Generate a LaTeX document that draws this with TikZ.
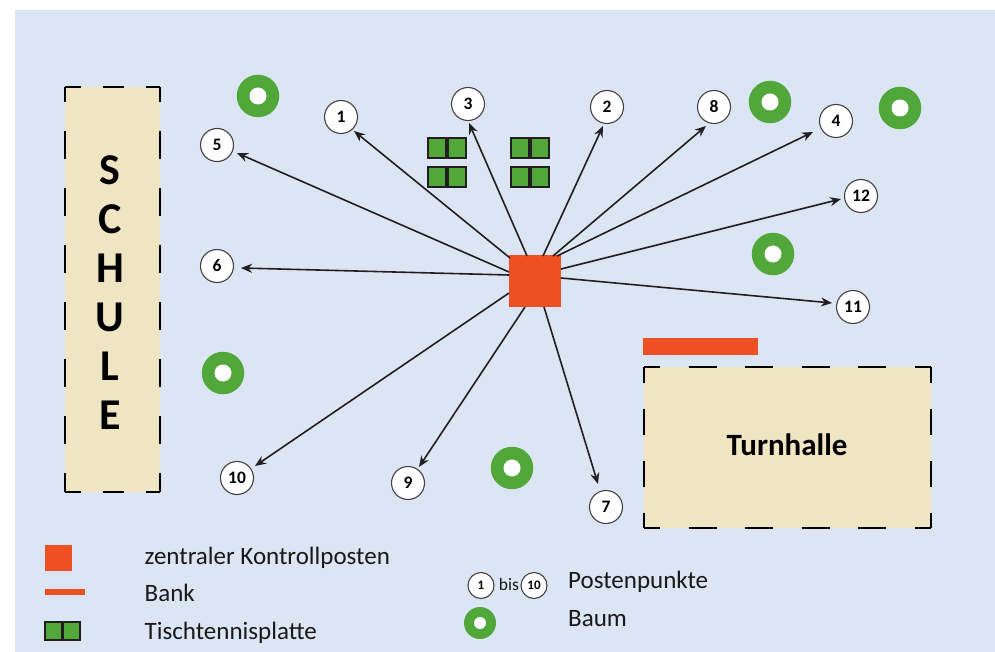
\documentclass[tikz,border=0pt]{standalone}
\usepackage{fontspec}
\setmainfont{Carlito}
\usetikzlibrary{arrows.meta}
\definecolor{panel}{HTML}{DBE5F4}
\definecolor{sand}{HTML}{EFE5C3}
\definecolor{signal}{HTML}{EE4F23}
\definecolor{leaf}{HTML}{52A73A}
\definecolor{ink}{HTML}{231F20}
\tikzset{
  x=1pt,y=-1pt,
  post/.style={circle,draw=ink!85,line width=1.1pt,fill=white,minimum size=33pt,inner sep=0pt,font=\fontsize{17.5}{17.5}\selectfont\bfseries},
  postsmall/.style={circle,draw=ink!85,line width=1.1pt,fill=white,minimum size=26pt,inner sep=0pt,font=\fontsize{13}{13}\selectfont\bfseries},
  tree/.style={circle,fill=leaf,minimum size=42.5pt,inner sep=0pt,path picture={\fill[white] (path picture bounding box.center) circle (8.5pt);}},
  treesmall/.style={circle,fill=leaf,minimum size=32pt,inner sep=0pt,path picture={\fill[white] (path picture bounding box.center) circle (6pt);}},
  halfplate/.style={draw=ink,line width=1.6pt,fill=leaf,minimum width=18pt,minimum height=20.5pt,inner sep=0pt,anchor=east},
  building/.style={fill=sand,inner sep=0pt,anchor=north west},
  wall/.style={line width=2pt,black},
  reach/.style={-{Stealth[length=11pt,width=9pt]},line width=1.6pt,ink},
  legendtext/.style={anchor=base west,inner sep=0pt,font=\fontsize{25}{25}\selectfont,text=black!90},
}
\newcommand{\plate}[3]{%
  \node[halfplate] (#1a) at (#2,#3) {};
  \node[halfplate,anchor=west] (#1b) at (#2,#3) {};
}
\begin{document}
\begin{tikzpicture}
\useasboundingbox (0,0) rectangle (995,652);
\fill[panel] (15,10) rectangle (995,652);
% buildings
\node[building,minimum width=95pt,minimum height=405pt] (schule) at (65,87) {};
\node[building,minimum width=287pt,minimum height=161pt] (halle) at (644,367) {};
\node[font=\fontsize{44}{49}\selectfont\bfseries,align=center,text=black] (schuletxt) at (110,292.5) {S\\C\\H\\U\\L\\E};
\node[font=\fontsize{31}{31}\selectfont\bfseries,text=black] (halletxt) at (787,445) {Turnhalle};
% dashed walls
\foreach \a/\b in {schule.north west/schule.north east,schule.south west/schule.south east}
  \draw[wall,dash pattern=on 21.5pt off 21.5pt,dash phase=5.5pt] (\a) -- (\b);
\foreach \a/\b in {schule.north west/schule.south west,schule.north east/schule.south east}
  \draw[wall,dash pattern=on 28pt off 29pt,dash phase=13pt] (\a) -- (\b);
\foreach \a/\b in {halle.north west/halle.north east,halle.south west/halle.south east}
  \draw[wall,dash pattern=on 28.3pt off 28.2pt,dash phase=12pt] (\a) -- (\b);
\foreach \a/\b in {halle.north west/halle.south west,halle.north east/halle.south east}
  \draw[wall,dash pattern=on 26pt off 26pt,dash phase=10pt] (\a) -- (\b);
% bank
\node[fill=signal,minimum width=115pt,minimum height=17pt,inner sep=0pt,anchor=north west] (bank) at (643,338) {};
% trees
\foreach \n/\x/\y in {t1/258/96,t2/770/102,t3/900/108,t4/773/254,t5/223/373,t6/512/468}
  \node[tree] (\n) at (\x,\y) {};
% plates
\plate{pa}{447}{148}\plate{pb}{447}{177}\plate{pc}{530}{148}\plate{pd}{530}{177}
% posts
\foreach \n/\x/\y in {1/341/117,2/607/107,3/468/104,4/836/121,5/217/145,6/217/266,7/606/507,8/714/107,9/408/483,10/237/478,11/853/307,12/861/196}
  \node[post] (n\n) at (\x,\y) {\n};
% hub
\node[fill=signal,minimum width=52pt,minimum height=52pt,inner sep=0pt] (hub) at (535,281) {};
% arrows: start offset from hub centre, tip offset from post centre
\draw[reach] ([shift={(-25,-23)}]hub.center) -- ([shift={(13,14)}]n1.center);
\draw[reach] ([shift={(8,-25)}]hub.center) -- ([shift={(-4,19)}]n2.center);
\draw[reach] ([shift={(-8,-25)}]hub.center) -- ([shift={(1,19)}]n3.center);
\draw[reach] ([shift={(22,-25)}]hub.center) -- ([shift={(-23,11)}]n4.center);
\draw[reach] ([shift={(-26,-9)}]hub.center) -- ([shift={(20,8)}]n5.center);
\draw[reach] ([shift={(-26,-6)}]hub.center) -- ([shift={(24,2)}]n6.center);
\draw[reach] ([shift={(9,26)}]hub.center) -- ([shift={(-8,-23)}]n7.center);
\draw[reach] ([shift={(18,-25)}]hub.center) -- ([shift={(-8,19)}]n8.center);
\draw[reach] ([shift={(-10,26)}]hub.center) -- ([shift={(11,-16)}]n9.center);
\draw[reach] ([shift={(-26,12)}]hub.center) -- ([shift={(18,-12)}]n10.center);
\draw[reach] ([shift={(26,-3)}]hub.center) -- ([shift={(-21,-4)}]n11.center);
\draw[reach] ([shift={(26,-12)}]hub.center) -- ([shift={(-20,3)}]n12.center);
% legend
\node[fill=signal,minimum width=27pt,minimum height=26pt,inner sep=0pt] (lg1) at (58.5,558) {};
\node[fill=signal,minimum width=40pt,minimum height=6pt,inner sep=0pt] (lg2) at (65,592) {};
\node[halfplate,minimum width=16.5pt,minimum height=18pt] (lg3a) at (62.5,631) {};
\node[halfplate,anchor=west,minimum width=16.5pt,minimum height=18pt] (lg3b) at (62.5,631) {};
\node[legendtext] (lt1) at (144.5,564) {zentraler Kontrollposten};
\node[legendtext] (lt2) at (144.5,601) {Bank};
\node[legendtext] (lt3) at (144.5,639) {Tischtennisplatte};
\node[postsmall] (lg4) at (481,585.5) {1};
\node[font=\fontsize{17.5}{17.5}\selectfont,text=black!90] (lgbis) at (509,584) {bis};
\node[postsmall] (lg5) at (534,585.5) {10};
\node[treesmall] (lg6) at (480,623) {};
\node[legendtext] (lt4) at (568,588) {Postenpunkte};
\node[legendtext] (lt5) at (568,626) {Baum};
\end{tikzpicture}
\end{document}
